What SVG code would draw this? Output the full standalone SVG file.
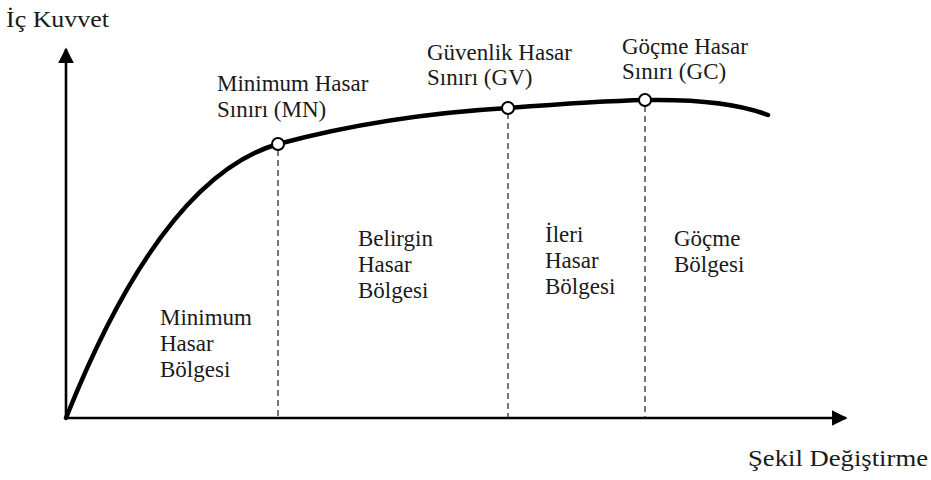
<svg xmlns="http://www.w3.org/2000/svg" width="931" height="480" viewBox="0 0 931 480">
<defs>
<style>
text{font-family:'Liberation Serif','DejaVu Serif',serif;font-size:23px;fill:#1a1a1a}
.axis{stroke:#000;stroke-width:2.6;fill:none}
.curve{stroke:#000;stroke-width:4.5;fill:none;stroke-linecap:round}
.dash{stroke:#555;stroke-width:1.6;stroke-dasharray:6 4;fill:none}
.pt{fill:#fff;stroke:#000;stroke-width:2}
</style>
<marker id="ah" viewBox="0 0 10 10" refX="9" refY="5" markerWidth="16" markerHeight="16" markerUnits="userSpaceOnUse" orient="auto">
<path d="M0,0 L10,5 L0,10 Z" fill="#000"/>
</marker>
</defs>
<rect width="931" height="480" fill="#fff"/>
<g id="connectors">
<line class="axis" x1="66" y1="419" x2="66" y2="49" marker-end="url(#ah)"/>
<line class="axis" x1="65" y1="418" x2="846" y2="418" marker-end="url(#ah)"/>
<line class="dash" x1="278" y1="150" x2="278" y2="417"/>
<line class="dash" x1="508" y1="113" x2="508" y2="417"/>
<line class="dash" x1="645" y1="106" x2="645" y2="417"/>
<path class="curve" d="M66,418 C125,270 195,168 278,144 C360,122 440,112 508,108 C560,104 600,101 645,100 C700,99 740,104 768,115"/>
</g>
<g font-family="Liberation Serif, DejaVu Serif, serif">
<g id="axis-labels">
<text x="6" y="27" textLength="103" lengthAdjust="spacingAndGlyphs">İç Kuvvet</text>
<text x="748" y="466" textLength="180" lengthAdjust="spacingAndGlyphs">Şekil Değiştirme</text>
</g>
<g id="MN">
<circle class="pt" cx="278" cy="144" r="6"/>
<text x="217" y="91">Minimum Hasar</text>
<text x="217" y="117">Sınırı (MN)</text>
</g>
<g id="GV">
<circle class="pt" cx="508" cy="108" r="6"/>
<text x="427" y="60">Güvenlik Hasar</text>
<text x="427" y="85">Sınırı (GV)</text>
</g>
<g id="GC">
<circle class="pt" cx="645" cy="100" r="6"/>
<text x="622" y="54">Göçme Hasar</text>
<text x="622" y="79">Sınırı (GC)</text>
</g>
<g id="zone-minimum">
<text x="160" y="325">Minimum</text>
<text x="160" y="351">Hasar</text>
<text x="160" y="377">Bölgesi</text>
</g>
<g id="zone-belirgin">
<text x="358" y="246">Belirgin</text>
<text x="358" y="272">Hasar</text>
<text x="358" y="298">Bölgesi</text>
</g>
<g id="zone-ileri">
<text x="545" y="242">İleri</text>
<text x="545" y="268">Hasar</text>
<text x="545" y="294">Bölgesi</text>
</g>
<g id="zone-gocme">
<text x="674" y="246">Göçme</text>
<text x="674" y="272">Bölgesi</text>
</g>
</g>
</svg>
